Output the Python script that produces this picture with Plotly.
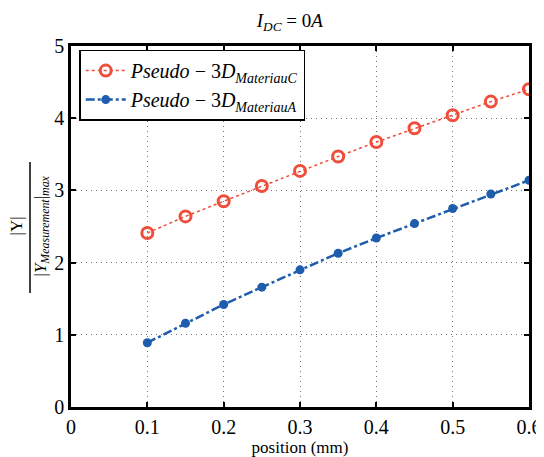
import plotly.graph_objects as go

position = [0.1, 0.15, 0.2, 0.25, 0.3, 0.35, 0.4, 0.45, 0.5, 0.55, 0.6]
materiau_c = [2.41, 2.64, 2.85, 3.06, 3.27, 3.47, 3.67, 3.86, 4.04, 4.23, 4.40]
materiau_a = [0.89, 1.16, 1.42, 1.66, 1.90, 2.13, 2.34, 2.54, 2.75, 2.95, 3.14]
x_ticks = [0, 0.1, 0.2, 0.3, 0.4, 0.5, 0.6]
x_tick_labels = ["0", "0.1", "0.2", "0.3", "0.4", "0.5", "0.6"]
y_ticks = [0, 1, 2, 3, 4, 5]
y_tick_labels = ["0", "1", "2", "3", "4", "5"]

FONT = "Times New Roman, Liberation Serif, serif"
RED = "rgb(238,78,58)"
BLUE = "rgb(30,92,172)"

fig = go.Figure()
fig.add_trace(go.Scatter(
    x=position, y=materiau_c, mode="lines+markers",
    name="<i>Pseudo</i> − 3<i>D</i><sub><i>MateriauC</i></sub>",
    line=dict(color=RED, width=1.5, dash="dot"),
    marker=dict(symbol="circle-open", size=11, color=RED, line=dict(width=3, color=RED)),
))
fig.add_trace(go.Scatter(
    x=position, y=materiau_a, mode="lines+markers",
    name="<i>Pseudo</i> − 3<i>D</i><sub><i>MateriauA</i></sub>",
    line=dict(color=BLUE, width=2.5, dash="dashdot"),
    marker=dict(symbol="circle", size=9, color=BLUE),
))

axis_common = dict(
    showline=True, linecolor="black", linewidth=2.5, mirror="ticks",
    ticks="inside", ticklen=5, tickwidth=1.5, tickcolor="black",
    showgrid=True, gridcolor="rgba(0,0,0,0.55)", gridwidth=1, griddash="1px,4px",
    zeroline=False, automargin=False,
    tickfont=dict(family=FONT, size=20, color="black"),
)

fig.update_layout(
    width=544, height=457,
    margin=dict(l=63, r=23, t=38, b=58),
    paper_bgcolor="white", plot_bgcolor="white",
    font=dict(family=FONT, color="black"),
    title=dict(text="<i>I</i><sub><i>DC</i></sub> = 0<i>A</i>", x=0.518, xanchor="center",
               y=0.974, yanchor="middle", font=dict(family=FONT, size=19, color="black")),
    xaxis=dict(range=[0, 0.6], tickvals=x_ticks, ticktext=x_tick_labels,
               title=dict(text="position (mm)", font=dict(family=FONT, size=17), standoff=2),
               **axis_common),
    yaxis=dict(range=[0, 5], tickvals=y_ticks, ticktext=y_tick_labels, title=None,
               **axis_common),
    legend=dict(x=0.018, y=0.99, xanchor="left", yanchor="top",
                bgcolor="white", bordercolor="black", borderwidth=1.5,
                font=dict(family=FONT, size=20, color="black"),
                tracegroupgap=0, itemwidth=40),
    showlegend=True,
)

# y-axis label as a fraction |Y| / |Y_Measurement|_max
fig.add_annotation(text="|Y|", xref="paper", yref="paper", x=0, y=0.5, xanchor="center",
                   yanchor="middle", xshift=-55, textangle=-90, showarrow=False,
                   font=dict(family=FONT, size=17, color="black"))
fig.add_annotation(text="|<i>Y</i><sub><i>Measurement</i></sub>|<sub><i>max</i></sub>",
                   xref="paper", yref="paper", x=0, y=0.5, xanchor="center", yanchor="middle",
                   xshift=-30, textangle=-90, showarrow=False,
                   font=dict(family=FONT, size=17, color="black"))
fig.add_shape(type="line", xref="paper", yref="paper", x0=-0.0895, x1=-0.0895,
              y0=0.316, y1=0.679, line=dict(color="black", width=1.5))

fig.write_html("out.html")
